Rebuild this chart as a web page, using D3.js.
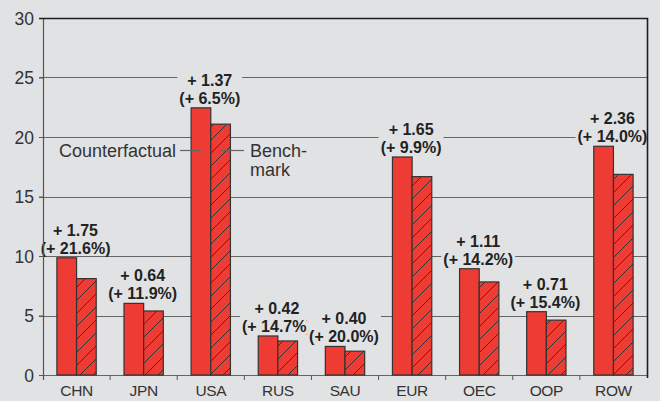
<!DOCTYPE html>
<html>
<head>
<meta charset="utf-8">
<script src="https://cdn.jsdelivr.net/npm/d3@7"></script>
<style>
  html, body { margin: 0; padding: 0; background: #e1e2e4; }
  svg { display: block; font-family: "Liberation Sans", Arial, sans-serif; }
</style>
</head>
<body>
<svg id="chart" width="660" height="401"></svg>
<script>
// Regions and their oil-import figures
const regions = ["CHN", "JPN", "USA", "RUS", "SAU", "EUR", "OEC", "OOP", "ROW"];
const benchmark = [8.10, 5.38, 21.08, 2.86, 2.00, 16.67, 7.82, 4.61, 16.86];
const counterfactual = [9.85, 6.02, 22.45, 3.28, 2.40, 18.32, 8.93, 5.32, 19.22];
const changeText = ["+ 1.75", "+ 0.64", "+ 1.37", "+ 0.42", "+ 0.40", "+ 1.65", "+ 1.11", "+ 0.71", "+ 2.36"];
const pctText = ["(+ 21.6%)", "(+ 11.9%)", "(+ 6.5%)", "(+ 14.7%)", "(+ 20.0%)", "(+ 9.9%)", "(+ 14.2%)", "(+ 15.4%)", "(+ 14.0%)"];
const yTicks = [0, 5, 10, 15, 20, 25, 30];

const bg = "#e1e2e4";
const red = "#ee3c35";
const edge = "#333333";
const gridColor = "#656565";

const svg = d3.select("#chart");
const mLeft = 43, mRight = 647, mTop = 18, mBottom = 375;

const x = d3.scaleBand().domain(regions).range([mLeft, mRight]).padding(0);
const y = d3.scaleLinear().domain([0, 30]).range([mBottom, mTop]);
const barW = x.bandwidth() * 0.293;

// diagonal hatch for the benchmark bars
const defs = svg.append("defs");
const pat = defs.append("pattern")
  .attr("id", "hatch").attr("patternUnits", "userSpaceOnUse")
  .attr("width", 13).attr("height", 13);
pat.append("rect").attr("width", 13).attr("height", 13).attr("fill", red);
pat.append("path")
  .attr("d", "M0,13 L13,0 M-3,3 L3,-3 M10,16 L16,10")
  .attr("stroke", edge).attr("stroke-width", 1);

// horizontal gridlines
svg.append("g").selectAll("line")
  .data(yTicks.filter(d => d > 0 && d < 30))
  .join("line")
  .attr("x1", mLeft - 4).attr("x2", mRight)
  .attr("y1", d => Math.round(y(d)) + 0.5).attr("y2", d => Math.round(y(d)) + 0.5)
  .attr("stroke", gridColor).attr("stroke-width", 1.2);

// blank out the gridline under the left callout text
svg.append("rect").attr("x", 56).attr("y", 141).attr("width", 122).attr("height", 20).attr("fill", bg);

// y axis labels and ticks
const yAxis = d3.axisLeft(y).tickValues(yTicks).tickSize(4).tickPadding(5);
const gy = svg.append("g").attr("transform", `translate(${mLeft},0)`).call(yAxis);
gy.select(".domain").remove();
gy.selectAll(".tick line").attr("stroke", "#555");
gy.selectAll(".tick text")
  .attr("font-size", 17.5).attr("fill", "#333").attr("font-family", "Liberation Sans, Arial, sans-serif")
  .attr("dy", "0.36em");

// x axis baseline and category labels
const gx = svg.append("g").attr("transform", `translate(0,${mBottom})`)
  .call(d3.axisBottom(x).tickSize(0).tickSizeOuter(0).tickPadding(10));
gx.select(".domain").attr("stroke", gridColor).attr("stroke-width", 1.2);
gx.selectAll(".tick text")
  .attr("font-size", 15.5).attr("fill", "#333").attr("letter-spacing", "-0.4px")
  .attr("font-family", "Liberation Sans, Arial, sans-serif");
svg.append("g").selectAll("line")
  .data(regions.slice(1))
  .join("line")
  .attr("x1", d => x(d)).attr("x2", d => x(d))
  .attr("y1", mBottom).attr("y2", mBottom + 5)
  .attr("stroke", "#555").attr("stroke-width", 1);

// bars
const cx = d => x(d) + x.bandwidth() / 2;
const bars = svg.append("g");
bars.selectAll("rect.cf")
  .data(regions)
  .join("rect").attr("class", "cf")
  .attr("x", d => cx(d) - barW)
  .attr("width", barW)
  .attr("y", (d, i) => y(counterfactual[i]))
  .attr("height", (d, i) => y(0) - y(counterfactual[i]))
  .attr("fill", red).attr("stroke", edge).attr("stroke-width", 1.2);
bars.selectAll("rect.bm")
  .data(regions)
  .join("rect").attr("class", "bm")
  .attr("x", d => cx(d))
  .attr("width", barW)
  .attr("y", (d, i) => y(benchmark[i]))
  .attr("height", (d, i) => y(0) - y(benchmark[i]))
  .attr("fill", "url(#hatch)").attr("stroke", edge).attr("stroke-width", 1.2);

// change labels above each pair, on a background patch over the gridlines
const labels = svg.append("g");
regions.forEach((r, i) => {
  const g = labels.append("g");
  const barTop = y(counterfactual[i]);
  const t1 = g.append("text")
    .attr("x", cx(r) - 1).attr("y", barTop - 22)
    .attr("text-anchor", "middle").attr("font-size", 16).attr("font-weight", "bold")
    .attr("fill", "#222").text(changeText[i]);
  const t2 = g.append("text")
    .attr("x", cx(r) - 1).attr("y", barTop - 4)
    .attr("text-anchor", "middle").attr("font-size", 16).attr("font-weight", "bold")
    .attr("fill", "#222").text(pctText[i]);
  const b1 = t1.node().getBBox(), b2 = t2.node().getBBox();
  const x0 = Math.min(b1.x, b2.x) - 2, x1 = Math.max(b1.x + b1.width, b2.x + b2.width) + 2;
  g.insert("rect", "text")
    .attr("x", x0).attr("width", x1 - x0)
    .attr("y", b1.y).attr("height", b2.y + b2.height - b1.y - 2)
    .attr("fill", bg);
});

// legend callouts on the USA pair
const usa = "USA";
const ly = 150.5;
svg.append("line")
  .attr("x1", 180).attr("x2", cx(usa) - barW / 2)
  .attr("y1", ly).attr("y2", ly)
  .attr("stroke", gridColor).attr("stroke-width", 1.2);
svg.append("line")
  .attr("x1", cx(usa) + barW / 2).attr("x2", 244)
  .attr("y1", ly).attr("y2", ly)
  .attr("stroke", gridColor).attr("stroke-width", 1.2);
svg.append("text")
  .attr("x", 176).attr("y", 157).attr("text-anchor", "end")
  .attr("font-size", 18).attr("fill", "#333").text("Counterfactual");
svg.append("text")
  .attr("x", 250).attr("y", 157)
  .attr("font-size", 18).attr("fill", "#333").text("Bench-");
svg.append("text")
  .attr("x", 250).attr("y", 175.5)
  .attr("font-size", 18).attr("fill", "#333").text("mark");

// left axis line and top/right frame, drawn last so nothing covers them
svg.append("line")
  .attr("x1", mLeft + 0.5).attr("x2", mLeft + 0.5)
  .attr("y1", mTop).attr("y2", mBottom + 5)
  .attr("stroke", "#555").attr("stroke-width", 1.2);
svg.append("path")
  .attr("d", `M${mLeft - 4},${mTop + 0.5} H${mRight + 0.5} V${mBottom + 3}`)
  .attr("fill", "none").attr("stroke", "#1e1e1e").attr("stroke-width", 1.6);
</script>
</body>
</html>
